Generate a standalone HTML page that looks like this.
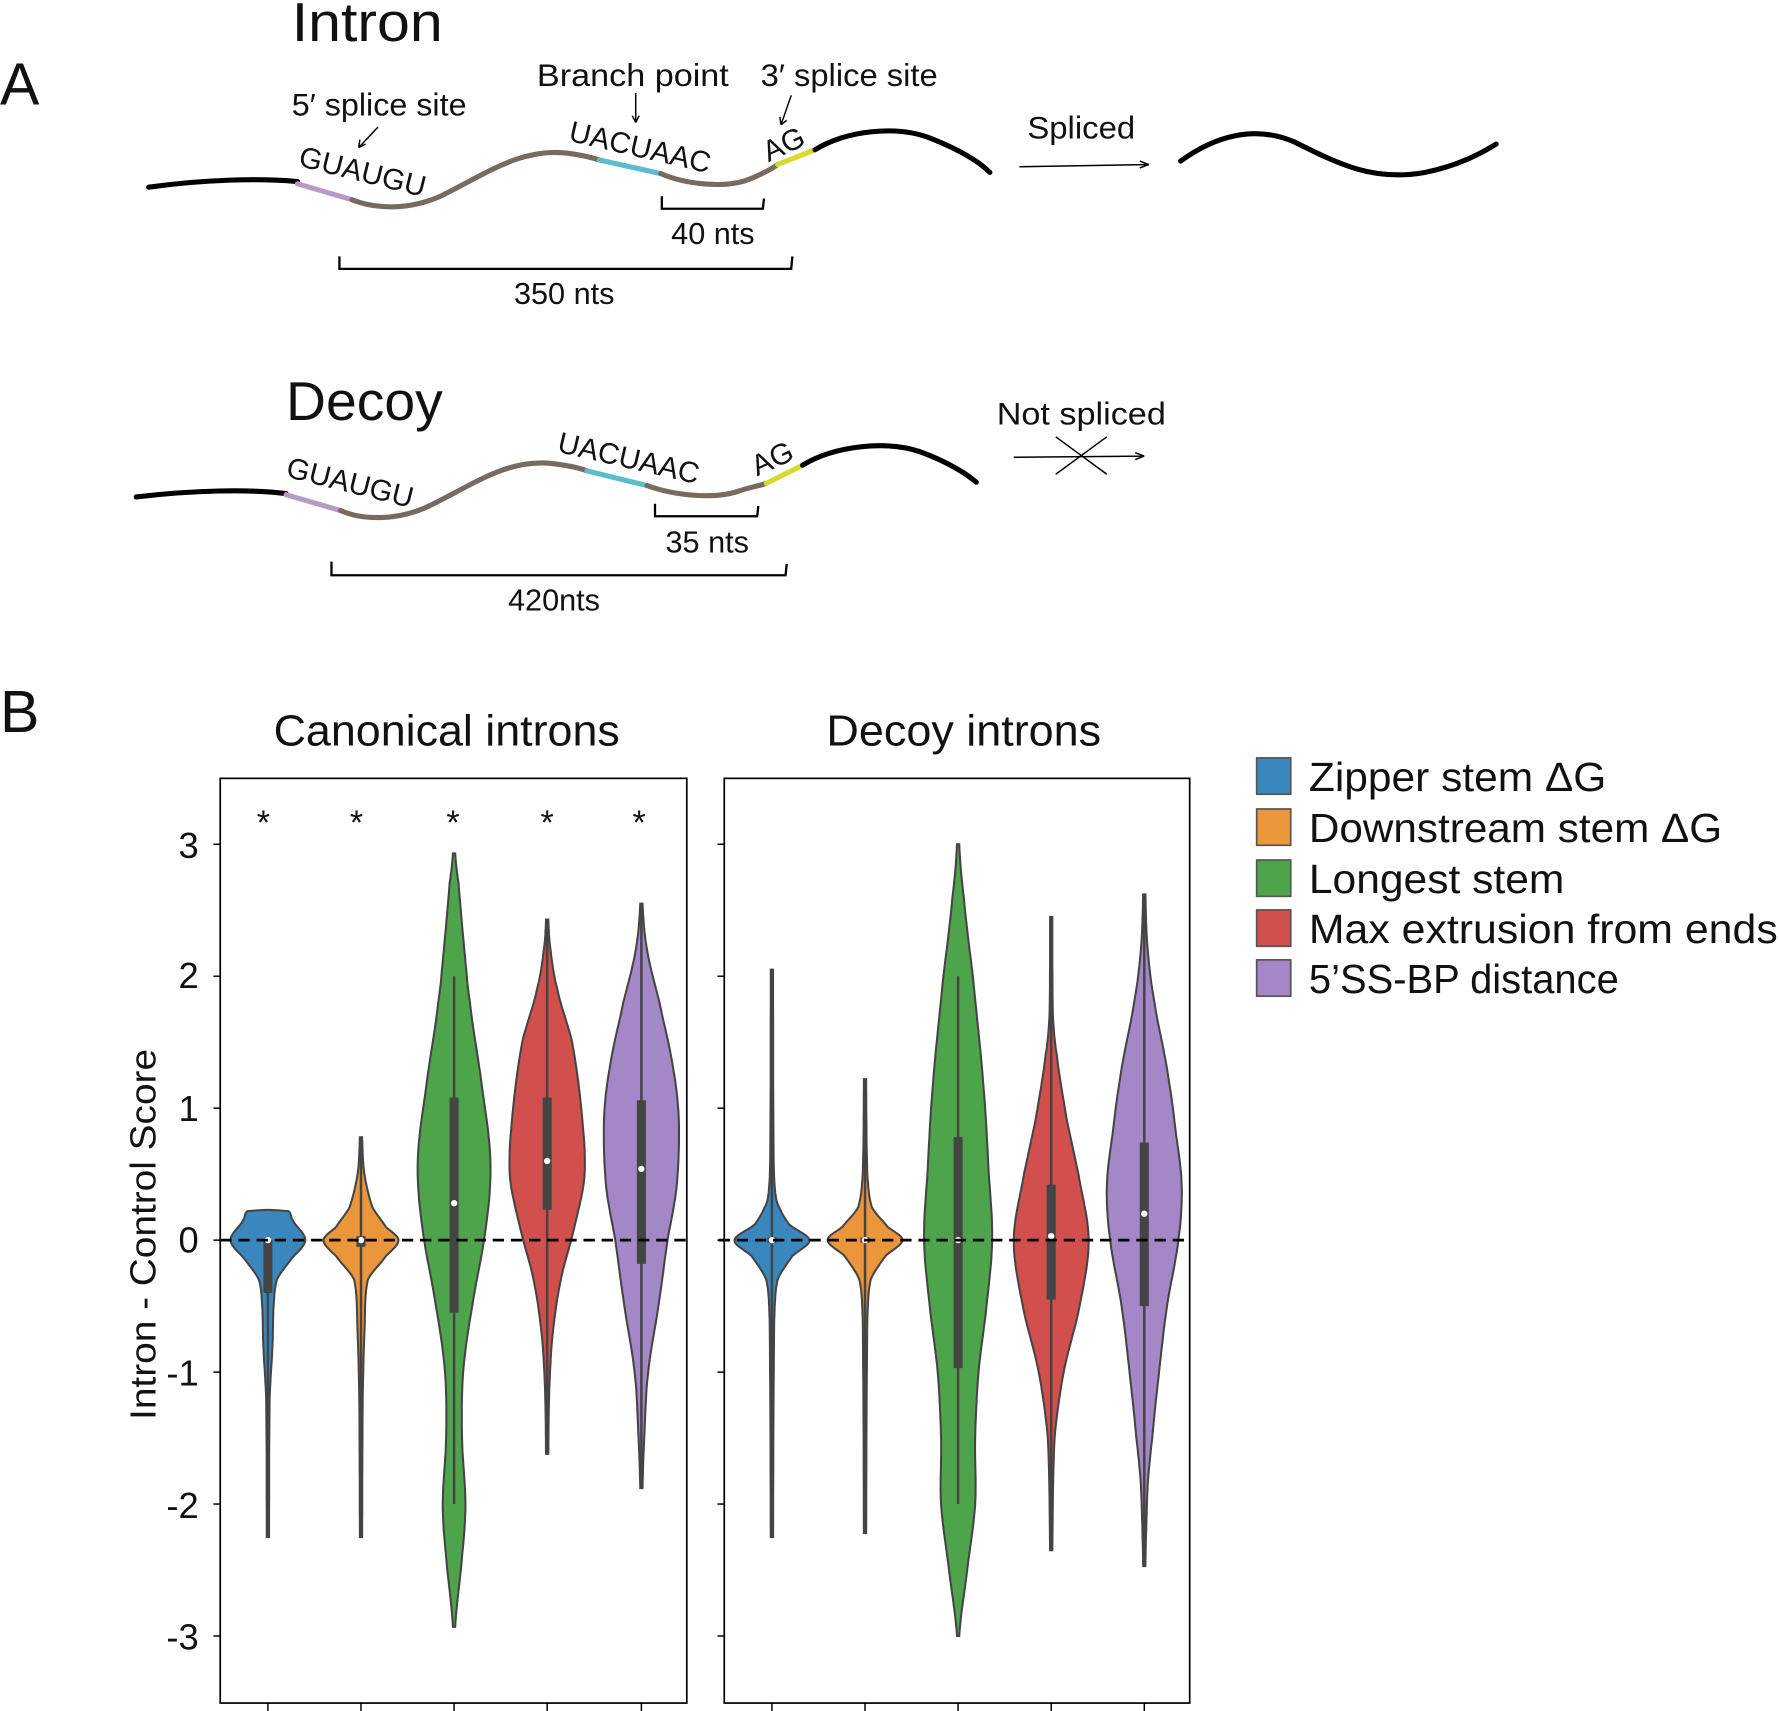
<!DOCTYPE html>
<html><head><meta charset="utf-8"><style>
html,body{margin:0;padding:0;background:#fff}
svg{display:block}
text{font-family:"Liberation Sans",sans-serif;fill:#111}
</style></head><body>
<svg id="s" width="1780" height="1711" viewBox="0 0 1568 1508" preserveAspectRatio="none" xmlns="http://www.w3.org/2000/svg">
<rect width="1568" height="1508" fill="#fff"/>
<!-- Panel A -->
<text x="0" y="92" font-size="52">A</text>
<text x="257" y="36" font-size="48" textLength="133" lengthAdjust="spacingAndGlyphs">Intron</text>
<text x="257" y="102" font-size="28" textLength="154" lengthAdjust="spacingAndGlyphs">5′ splice site</text>
<text x="473" y="76" font-size="28" textLength="169" lengthAdjust="spacingAndGlyphs">Branch point</text>
<text x="670" y="76" font-size="28" textLength="156" lengthAdjust="spacingAndGlyphs">3′ splice site</text>
<g stroke="#000" stroke-width="1.3" fill="none">
<path d="M333 112 L316 130 M316 130 l1 -7 M316 130 l6 -3"/>
<path d="M560 82 L560 108 M560 108 l-3 -6 M560 108 l3 -6"/>
<path d="M697 84 L688 110 M688 110 l-1 -7 M688 110 l5 -4"/>
<path d="M898 147 L1012 145 M1012 145 l-8 -3 M1012 145 l-8 3"/>
<path d="M893 403 L1008 402 M1008 402 l-8 -3 M1008 402 l-8 3"/>
<path d="M930 385 L975 418 M930 418 L975 385"/>
<path d="M299 226 L299 237 L697 237 L698 226" stroke-width="2"/>
<path d="M583 173 L583 184 L672 184 L673 175" stroke-width="2"/>
<path d="M292 495 L292 507 L692 507 L693 497" stroke-width="2"/>
<path d="M577 444 L577 455 L667 455 L668 446" stroke-width="2"/>
</g>
<g fill="none" stroke-width="4.5" stroke-linecap="round">
<path d="M131 165 C180 158 230 157 262 160" stroke="#000"/>
<path d="M262 162 L310 176" stroke="#b89ac8"/>
<path d="M310 176 C330 184 360 186 390 172 C430 152 460 130 500 135 C515 137 522 139 528 141" stroke="#776a5f"/>
<path d="M528 141 L582 153" stroke="#5bbccc"/>
<path d="M582 153 C605 163 640 166 660 158 C672 153 680 149 685 145" stroke="#776a5f"/>
<path d="M685 145 L718 132" stroke="#d6d930"/>
<path d="M718 132 C745 115 790 110 820 122 C845 132 862 142 872 152" stroke="#000"/>
<path d="M1040 142 C1070 120 1105 110 1140 125 C1180 145 1210 160 1255 152 C1285 146 1305 135 1318 127" stroke="#000"/>
<path d="M120 438 C170 432 220 431 252 435" stroke="#000"/>
<path d="M252 436 L300 450" stroke="#b89ac8"/>
<path d="M300 450 C318 458 350 460 380 445 C420 425 450 403 490 409 C505 411 512 413 517 415" stroke="#776a5f"/>
<path d="M517 415 L570 428" stroke="#5bbccc"/>
<path d="M570 428 C595 437 630 440 650 433 C662 429 670 428 675 426" stroke="#776a5f"/>
<path d="M675 426 L707 410" stroke="#d6d930"/>
<path d="M707 410 C735 393 780 388 810 398 C835 407 852 418 860 425" stroke="#000"/>
</g>
<text x="262" y="146" font-size="26" transform="rotate(14 262 146)">GUAUGU</text>
<text x="500" y="124" font-size="26" transform="rotate(13 500 124)">UACUAAC</text>
<text x="677" y="143" font-size="26" transform="rotate(-25 677 143)">AG</text>
<text x="628" y="215" font-size="27" text-anchor="middle">40 nts</text>
<text x="497" y="268" font-size="27" text-anchor="middle">350 nts</text>
<text x="905" y="122" font-size="28" textLength="95" lengthAdjust="spacingAndGlyphs">Spliced</text>
<text x="252" y="370" font-size="48" textLength="138" lengthAdjust="spacingAndGlyphs">Decoy</text>
<text x="251" y="420" font-size="26" transform="rotate(14 251 420)">GUAUGU</text>
<text x="490" y="398" font-size="26" transform="rotate(13 490 398)">UACUAAC</text>
<text x="667" y="420" font-size="26" transform="rotate(-25 667 420)">AG</text>
<text x="623" y="487" font-size="27" text-anchor="middle">35 nts</text>
<text x="488" y="538" font-size="27" text-anchor="middle">420nts</text>
<text x="878" y="374" font-size="28" textLength="149" lengthAdjust="spacingAndGlyphs">Not spliced</text>
<!-- Panel B -->
<text x="0" y="645" font-size="52">B</text>
<text x="241" y="657" font-size="38" textLength="305" lengthAdjust="spacingAndGlyphs">Canonical introns</text>
<text x="728" y="657" font-size="38" textLength="242" lengthAdjust="spacingAndGlyphs">Decoy introns</text>
<text x="0" y="0" font-size="32" text-anchor="middle" textLength="327" lengthAdjust="spacingAndGlyphs" transform="translate(137 1088) rotate(-90)">Intron - Control Score</text>
<g id="viol"></g>
<rect x="194" y="686" width="411" height="815" fill="none" stroke="#000" stroke-width="1.5"/>
<rect x="638" y="686" width="410" height="815" fill="none" stroke="#000" stroke-width="1.5"/>
<g font-size="32" text-anchor="end">
<text x="175" y="756">3</text><text x="175" y="871">2</text><text x="175" y="988">1</text><text x="175" y="1104">0</text>
<text x="175" y="1221">-1</text><text x="175" y="1338">-2</text><text x="175" y="1454">-3</text>
</g>
<g stroke="#000" stroke-width="1.3" id="ticks"></g>
<g font-size="30" text-anchor="middle">
<text x="232" y="735">*</text><text x="314" y="735">*</text><text x="399" y="735">*</text><text x="482" y="735">*</text><text x="563" y="735">*</text>
</g>
<g stroke="#555" stroke-width="1.5">
<rect x="1107" y="668" width="30" height="32" fill="#3a87be"/>
<rect x="1107" y="713" width="30" height="32" fill="#eb963a"/>
<rect x="1107" y="758" width="30" height="32" fill="#4ea44b"/>
<rect x="1107" y="802" width="30" height="32" fill="#d1504d"/>
<rect x="1107" y="846" width="30" height="32" fill="#a487c6"/>
</g>
<g font-size="36">
<text x="1153" y="697" textLength="262" lengthAdjust="spacingAndGlyphs">Zipper stem ΔG</text>
<text x="1153" y="742" textLength="364" lengthAdjust="spacingAndGlyphs">Downstream stem ΔG</text>
<text x="1153" y="787" textLength="225" lengthAdjust="spacingAndGlyphs">Longest stem</text>
<text x="1153" y="831" textLength="413" lengthAdjust="spacingAndGlyphs">Max extrusion from ends</text>
<text x="1153" y="875" textLength="273" lengthAdjust="spacingAndGlyphs">5’SS-BP distance</text>
</g>
</svg>
<script>
(function(){
var NS="http://www.w3.org/2000/svg";
function Y(v){return 1093-116.3*v;}
var g=document.getElementById("viol");
function el(t,a){var e=document.createElementNS(NS,t);for(var k in a)e.setAttribute(k,a[k]);g.appendChild(e);return e;}
function violin(cx,prof,col,box,wh,med){
 var pts=[];
 for(var i=0;i<prof.length-1;i++){
  var p0=prof[Math.max(i-1,0)],p1=prof[i],p2=prof[i+1],p3=prof[Math.min(i+2,prof.length-1)];
  for(var t=0;t<1;t+=0.1){
   var t2=t*t,t3=t2*t;
   var w=0.5*((2*p1[1])+(-p0[1]+p2[1])*t+(2*p0[1]-5*p1[1]+4*p2[1]-p3[1])*t2+(-p0[1]+3*p1[1]-3*p2[1]+p3[1])*t3);
   var v=p1[0]+(p2[0]-p1[0])*t;
   pts.push([v,Math.max(w,0.5)]);
  }
 }
 pts.push(prof[prof.length-1]);
 var d="";
 pts.forEach(function(p,i){d+=(i?"L":"M")+(cx+p[1]).toFixed(1)+" "+Y(p[0]).toFixed(1);});
 for(var i=pts.length-1;i>=0;i--){d+="L"+(cx-pts[i][1]).toFixed(1)+" "+Y(pts[i][0]).toFixed(1);}
 d+="Z";
 el("path",{d:d,fill:col,stroke:"#444","stroke-width":1.8});
 el("line",{x1:cx,x2:cx,y1:Y(wh[0]),y2:Y(wh[1]),stroke:"#444","stroke-width":2.2});
 el("rect",{x:cx-4,y:Y(box[1]),width:8,height:Y(box[0])-Y(box[1]),fill:"#444"});
 el("circle",{cx:cx,cy:Y(med),r:2.8,fill:"#fff"});
}
var B="#3a87be",O="#eb963a",G="#4ea44b",Rd="#d1504d",P="#a487c6";
violin(236,[[0.23,2],[0.22,18],[0.15,22],[0,33],[-0.15,20],[-0.3,8],[-0.5,5],[-0.8,4],[-1.2,1.5],[-2.25,1]],B,[-0.4,0],[-2.25,0],0);
violin(318,[[0.78,1],[0.5,3],[0.25,10],[0.1,22],[0,33],[-0.12,22],[-0.3,6],[-0.7,3],[-1.2,1.5],[-2.25,1]],O,[-0.05,0.03],[-2.25,0.78],0);
violin(400,[[2.93,1],[2.7,4],[2.2,9],[1.8,14],[1.2,24],[0.6,32],[0.1,28],[-0.5,16],[-1,8],[-1.5,7],[-2,10],[-2.4,7],[-2.93,1]],G,[-0.55,1.08],[-2,2],0.28);
violin(482,[[2.43,1],[2.2,3],[1.9,9],[1.5,22],[1.0,30],[0.5,33],[0.1,24],[-0.3,12],[-0.7,5],[-1.1,2],[-1.62,1]],Rd,[0.23,1.08],[-1.62,2.43],0.6);
violin(565,[[2.55,1],[2.2,5],[1.8,16],[1.3,28],[0.9,33],[0.4,31],[0,23],[-0.5,15],[-1.0,6],[-1.4,3],[-1.88,1]],P,[-0.18,1.06],[-1.88,2.55],0.54);
violin(680,[[2.05,1],[0.6,1.5],[0.3,4],[0.12,15],[0,33],[-0.12,18],[-0.3,5],[-0.6,2],[-2.25,1]],B,[-0.02,0.02],[-2.25,2.05],0);
violin(762,[[1.22,1],[0.5,2],[0.25,6],[0.1,20],[0,33],[-0.12,18],[-0.3,5],[-0.6,2],[-2.22,1]],O,[-0.02,0.02],[-2.22,1.22],0);
violin(844,[[3.0,1],[2.6,5],[2.0,13],[1.2,22],[0.5,27],[0,30],[-0.5,25],[-1,18],[-1.5,15],[-2,15],[-2.5,8],[-3.0,1]],G,[-0.97,0.78],[-2,2],0);
violin(926,[[2.45,1],[1.7,1.5],[1.4,5],[0.9,14],[0.5,24],[0,33],[-0.5,25],[-1,11],[-1.5,3],[-2.35,1]],Rd,[-0.45,0.42],[-2.35,2.45],0.03);
violin(1008,[[2.62,1],[2.2,3],[1.8,9],[1.3,20],[0.8,28],[0.4,33],[0,30],[-0.5,20],[-1,13],[-1.5,7],[-1.85,3],[-2.47,1]],P,[-0.5,0.74],[-2.47,2.62],0.2);
el("line",{x1:194,x2:605,y1:1093,y2:1093,stroke:"#000","stroke-width":2.5,"stroke-dasharray":"10 6"});
el("line",{x1:633,x2:1045,y1:1093,y2:1093,stroke:"#000","stroke-width":2.5,"stroke-dasharray":"10 6"});
var t=document.getElementById("ticks");
function ln(a,b,c,d){var e=document.createElementNS(NS,"line");e.setAttribute("x1",a);e.setAttribute("y1",b);e.setAttribute("x2",c);e.setAttribute("y2",d);t.appendChild(e);}
for(var v=-3;v<=3;v++){ln(188,Y(v),194,Y(v));ln(632,Y(v),638,Y(v));}
[236,318,400,482,565,680,762,844,926,1008].forEach(function(x){ln(x,1501,x,1508);});
})();
</script>
</body></html>
